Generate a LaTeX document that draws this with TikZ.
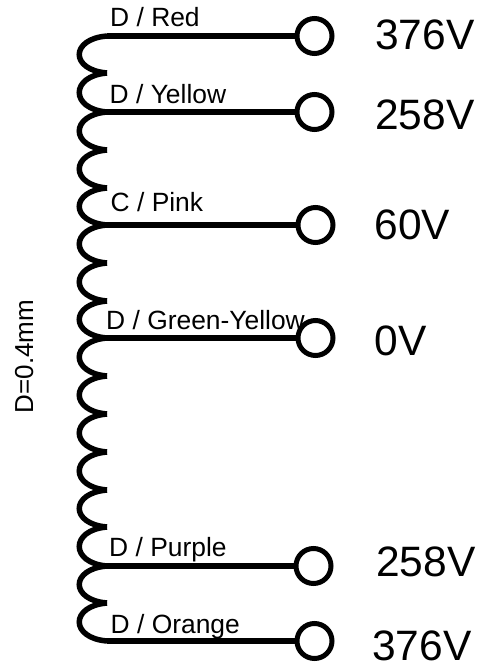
\documentclass[tikz,border=0pt]{standalone}
\usepackage{fontspec}
\setmainfont{Liberation Sans}
\tikzset{
  wire/.style={line width=5.5pt,black,line cap=butt},
  coilline/.style={line width=5.5pt,black,line cap=butt},
  term/.style={circle,draw=black,line width=5pt,fill=white,minimum size=35pt,inner sep=0pt},
  volt/.style={font=\fontsize{42.5}{42.5}\selectfont,anchor=base west,inner sep=0pt},
  lab/.style={font=\fontsize{26.4}{26.4}\selectfont,anchor=base west,inner sep=0pt},
}
\begin{document}
\begin{tikzpicture}[x=1pt,y=-1pt]
\useasboundingbox (0,0) rectangle (483,663);
% coil tips
\foreach \n/\y in {0/36,1/73,2/112,3/150,4/188,5/225,6/263,7/301,8/338,9/376,10/414,11/452,12/490,13/527,14/566,15/603,16/641}{
  \coordinate (t\n) at (107,\y);
}
\foreach \a/\b in {0/1,1/2,2/3,3/4,4/5,5/6,6/7,7/8,8/9,9/10,10/11,11/12,12/13,13/14,14/15,15/16}{
  \draw[coilline] (t\a) .. controls ([shift={(-37,3)}]t\a) and ([shift={(-37,-3)}]t\b) .. (t\b);
}
% wires
\node[term] (c0) at (314.5,36) {};
\node[term] (c2) at (314.5,112) {};
\node[term] (c5) at (315.5,225) {};
\node[term] (c8) at (315.5,338) {};
\node[term] (c14) at (313.5,566) {};
\node[term] (c16) at (314.5,641) {};
\draw[wire] (t0) -- (c0);
\draw[wire] (t2) -- (c2);
\draw[wire] (t5) -- (c5);
\draw[wire] (t8) -- (c8);
\draw[wire] (t14) -- (c14);
\draw[wire] (t16) -- (c16);
% labels
\node[lab] (l0) at (110,26.7) {D / Red};
\node[lab] (l2) at (109.5,104) {D / Yellow};
\node[lab] (l5) at (110.5,211.7) {C / Pink};
\node[lab] (l8) at (106,329) {D / Green-Yellow};
\node[lab] (l14) at (109,556.7) {D / Purple};
\node[lab] (l16) at (110.5,633) {D / Orange};
\node[volt] (v0) at (375,50) {376V};
\node[volt] (v2) at (375,129.3) {258V};
\node[volt] (v5) at (374.5,239.3) {60V};
\node[volt] (v8) at (374.5,355) {0V};
\node[volt] (v14) at (376,576.7) {258V};
\node[volt] (v16) at (372,660.7) {376V};
\node[font=\fontsize{26}{26}\selectfont,rotate=90,anchor=base,inner sep=0pt] (d) at (33,356.5) {D=0.4mm};
\end{tikzpicture}
\end{document}
